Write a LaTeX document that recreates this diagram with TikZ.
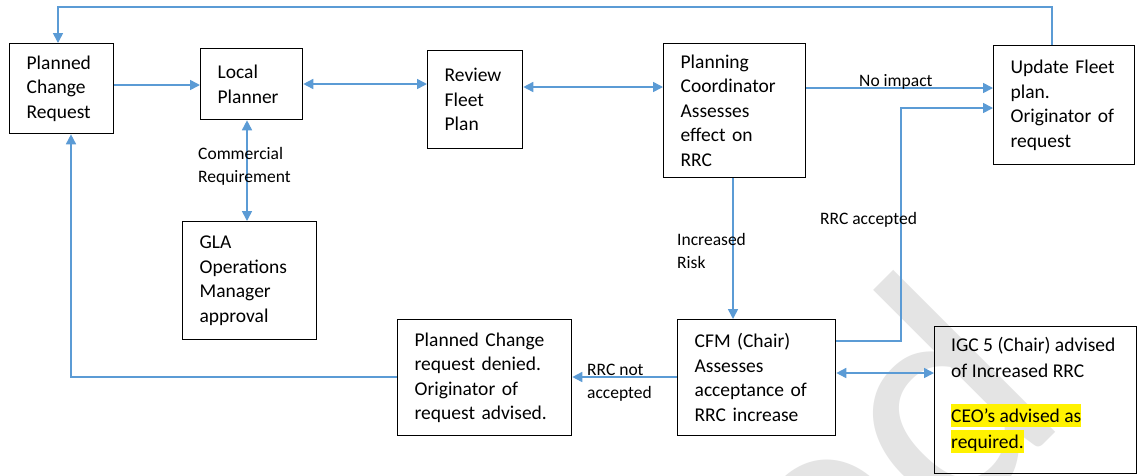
\documentclass[tikz,border=0pt]{standalone}
\usepackage{fontspec}
\setmainfont{Carlito}
\usetikzlibrary{arrows.meta}
\definecolor{flowblue}{HTML}{5B9BD5}
\definecolor{markgrey}{HTML}{E4E4E4}
\newcommand\boxfont{\fontsize{19.5}{24.5}\selectfont}
\newcommand\lblfont{\fontsize{17.5}{22.5}\selectfont}
\newcommand\hlmark[1]{{\setlength\fboxsep{0pt}\colorbox{yellow}{\rule[-5pt]{0pt}{23pt}#1}}}
\tikzset{
  flowbox/.style={draw=black, line width=1.3pt, anchor=north west, inner xsep=17pt,
    inner ysep=0pt, align=left, font=\boxfont},
  flow/.style={draw=flowblue, line width=1.6pt, -{Triangle[length=10pt,width=10pt]}},
  flowboth/.style={draw=flowblue, line width=1.6pt, {Triangle[length=10pt,width=10pt]}-{Triangle[length=10pt,width=10pt]}},
  lbl/.style={anchor=west, align=left, inner sep=0pt, font=\lblfont}
}
\begin{document}
\begin{tikzpicture}[x=1pt,y=-1pt]
\useasboundingbox (0,0) rectangle (1137,475);
\fill[white] (0,0) rectangle (1137,475);

% faint watermark behind the chart
\begin{scope}
  \clip (0,0) rectangle (1137,475);
  \node[rotate=45, anchor=base east, inner sep=0pt, text=markgrey,
        font=\fontsize{330}{330}\selectfont] (wm) at (1072,416) {ed};
\end{scope}

% process boxes
\node[flowbox, text width=70pt,  minimum height=90pt]  (pcr) at (9,43)    {Planned\\Change\\Request};
\node[flowbox, text width=68pt,  minimum height=71pt]  (lp)  at (200,48)  {Local\\Planner};
\node[flowbox, text width=61pt,  minimum height=98pt]  (rfp) at (427,50)  {Review\\Fleet\\Plan};
\node[flowbox, text width=100pt, minimum height=118pt] (gla) at (182,221) {GLA\\Operations\\Manager\\approval};
\node[flowbox, text width=108pt, minimum height=134pt] (pc)  at (663,43)  {Planning\\Coordinator\\Assesses\\effect on\\RRC};
\node[flowbox, text width=107pt, minimum height=119pt] (ufp) at (993,45)  {Update Fleet\\plan.\\Originator of\\request};
\node[flowbox, text width=140pt, minimum height=116pt] (den) at (397,319) {Planned Change\\request denied.\\Originator of\\request advised.};
\node[flowbox, text width=124pt, minimum height=116pt] (cfm) at (677,319) {CFM (Chair)\\Assesses\\acceptance of\\RRC increase};
\node[draw=black, line width=1.3pt, anchor=north west, inner sep=0pt,
      minimum width=202pt, minimum height=147pt] (igc) at (934,326) {};
% the last baseline of this block sits at the given point
\node[anchor=base west, inner sep=0pt, align=left, font=\fontsize{19.5}{26}\selectfont]
  (igctxt) at (951,448) {IGC 5 (Chair) advised\\of Increased RRC\\[19pt]\hlmark{CEO’s advised as}\\\hlmark{required.}};

% routing points
\coordinate (topR) at (1052,7);
\coordinate (topL) at (58,7);
\coordinate (y85)  at (0,85);
\coordinate (y84)  at (0,84);
\coordinate (y87)  at (0,87);
\coordinate (y88)  at (0,88);
\coordinate (x247) at (247,0);
\coordinate (x733) at (733,0);
\coordinate (ra)   at (901,341);
\coordinate (rb)   at (901,108);
\coordinate (y373) at (0,373);
\coordinate (y377) at (0,377);
\coordinate (lb)   at (71,377);

% connectors
\draw[flow] (topR |- ufp.north) -- (topR) -- (topL) -- (topL |- pcr.north);
\draw[flow] (pcr.east |- y85) -- (lp.west |- y85);
\draw[flowboth] (lp.east |- y84) -- (rfp.west |- y84);
\draw[flowboth] (rfp.east |- y87) -- (pc.west |- y87);
\draw[flowboth] (x247 |- lp.south) -- (x247 |- gla.north);
\draw[flow] (pc.east |- y88) -- (ufp.west |- y88);
\draw[flow] (cfm.east |- ra) -- (ra) -- (rb) -- (ufp.west |- rb);
\draw[flow] (x733 |- pc.south) -- (x733 |- cfm.north);
\draw[flowboth] (cfm.east |- y373) -- (igc.west |- y373);
\draw[flow] (cfm.west |- y377) -- (den.east |- y377);
\draw[flow] (den.west |- lb) -- (lb) -- (lb |- pcr.south);

% connector labels
\node[lbl] (lcomm) at (198,166.5) {Commercial\\Requirement};
\node[lbl] (lrisk) at (677,251)   {Increased\\Risk};
\node[lbl] (lacc)  at (820,220)   {RRC accepted};
\node[lbl] (limp)  at (859,82)    {No impact};
\node[lbl] (lnot)  at (587,382.5) {RRC not\\accepted};
\end{tikzpicture}
\end{document}
